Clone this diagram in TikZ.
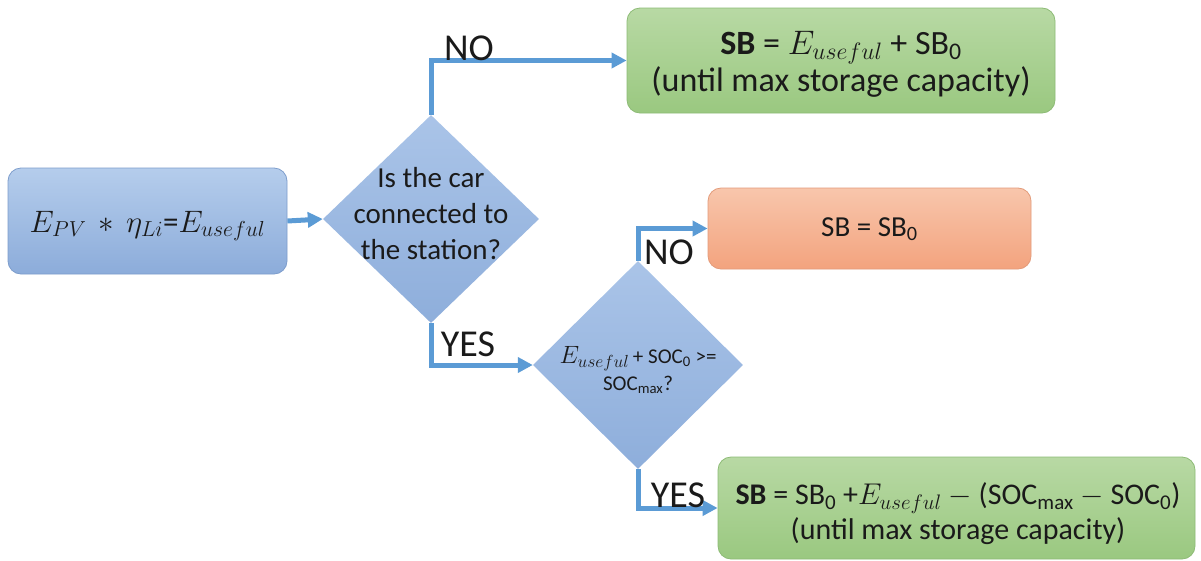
\RequirePackage{fix-cm}
\documentclass[tikz,border=0pt]{standalone}
\usepackage{fontspec}
\setmainfont{Carlito}
\usetikzlibrary{shapes.geometric,arrows.meta}

\definecolor{bluetop}{HTML}{B5CDEC}
\definecolor{bluebot}{HTML}{8CACDA}
\definecolor{blueedge}{HTML}{7D9DCC}
\definecolor{diatop}{HTML}{AAC4E8}
\definecolor{diabot}{HTML}{8EAEDB}
\definecolor{greentop}{HTML}{B8D9A4}
\definecolor{greenbot}{HTML}{9AC880}
\definecolor{greenedge}{HTML}{8DBB76}
\definecolor{orangetop}{HTML}{F8C6AC}
\definecolor{orangebot}{HTML}{F3A37E}
\definecolor{orangeedge}{HTML}{E39B7A}
\definecolor{linkblue}{HTML}{5B9BD5}
\definecolor{ink}{HTML}{1A1A1A}

\tikzset{
  box/.style={rectangle, rounded corners=13pt, inner sep=0pt, line width=0.8pt},
  bluebox/.style={box, draw=blueedge, top color=bluetop, bottom color=bluebot},
  greenbox/.style={box, draw=greenedge, top color=greentop, bottom color=greenbot},
  orangebox/.style={box, draw=orangeedge, top color=orangetop, bottom color=orangebot},
  decision/.style={diamond, inner sep=0pt, draw=none, top color=diatop, bottom color=diabot},
  link/.style={draw=linkblue, line width=5pt,
    -{Triangle[length=15pt,width=15pt]}},
  branch/.style={font=\fontsize{38}{44}\selectfont, text=ink, inner sep=0pt},
  body/.style={align=center, text=ink, inner sep=0pt}
}

\begin{document}
\begin{tikzpicture}[x=1pt,y=-1pt]
  \fill[white] (0,0) rectangle (1201,560);
  \useasboundingbox (0,0) rectangle (1201,560);

  % process and result boxes
  \node[bluebox, minimum width=279pt, minimum height=106pt] (start) at (147.5,221) {};
  \node[body, font=\fontsize{31}{38}\selectfont] (starttxt) at (147.5,226)
    {$E_{PV}\,*\,\eta_{Li}$=$E_{useful}$};

  \node[greenbox, minimum width=428pt, minimum height=105pt] (charge) at (841,60.5) {};
  \node[body, font=\fontsize{34}{37}\selectfont] (chargetxt) at (841,64)
    {\textbf{SB} = $E_{useful}$ + SB\textsubscript{0}\\(until max storage capacity)};

  \node[orangebox, minimum width=323pt, minimum height=81pt] (keep) at (869.5,228.5) {};
  \node[body, font=\fontsize{29}{35}\selectfont] (keeptxt) at (869.5,229) {SB = SB\textsubscript{0}};

  \node[greenbox, minimum width=477pt, minimum height=102pt] (fill) at (956.5,508) {};
  \node[body, font=\fontsize{30}{35}\selectfont] (filltxt) at (958,514)
    {\textbf{SB} = SB\textsubscript{0} +$E_{useful}$ $-$ (SOC\textsubscript{max} $-$ SOC\textsubscript{0})\\(until max storage capacity)};

  % decisions
  \node[decision, minimum width=216pt, minimum height=208pt] (car) at (431,219) {};
  \node[body, font=\fontsize{29}{36}\selectfont] (cartxt) at (431,214)
    {Is the car\\connected to\\the station?};

  \node[decision, minimum width=210pt, minimum height=208pt] (soc) at (638,365) {};
  \node[body, font=\fontsize{21}{27}\selectfont] (soctxt) at (638,370)
    {{\fontsize{25}{27}\selectfont$E_{useful}$}\,+ SOC\textsubscript{0} >=\\SOC\textsubscript{max}?};

  % connectors
  \draw[link] (start.east) -- (car.west);
  \draw[link] (car.north) |- (charge.west);
  \draw[link] (car.south) |- (soc.west);
  \draw[link] (soc.north) |- (keep.west);
  \draw[link] (soc.south) |- (fill.west);

  % branch labels
  \node[branch] (no1) at (469,48) {NO};
  \node[branch] (yes1) at (468,344) {YES};
  \node[branch] (no2) at (669,252) {NO};
  \node[branch] (yes2) at (678,495) {YES};
\end{tikzpicture}
\end{document}
